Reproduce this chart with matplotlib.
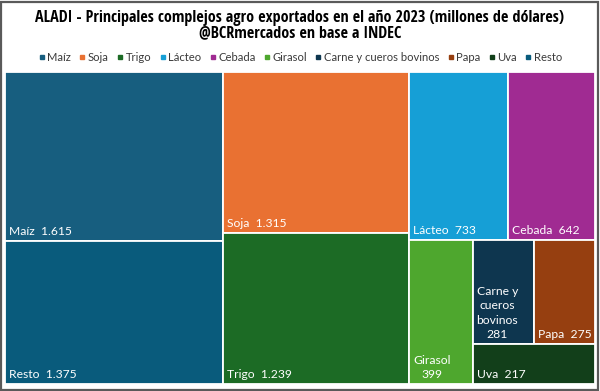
import textwrap
import matplotlib
matplotlib.use("Agg")
import matplotlib.pyplot as plt
from matplotlib.patches import Rectangle
from matplotlib.lines import Line2D

# datos (millones de USD)
categorias = ["Maíz", "Soja", "Trigo", "Lácteo", "Cebada", "Girasol",
              "Carne y cueros bovinos", "Papa", "Uva", "Resto"]
valores = [1615, 1315, 1239, 733, 642, 399, 281, 275, 217, 1375]
colores = ["#175e7f", "#e97132", "#1c6b25", "#169fd6", "#a02b92", "#4ea72e",
           "#0e364f", "#963f10", "#123f1a", "#095b7c"]

# estructura del treemap: 'h' = lado a lado, 'v' = apilado
arbol = ("h", [("v", [0, 9]),
               ("v", [1, 2]),
               ("v", [("h", [3, 4]),
                      ("h", [5, ("v", [("h", [6, 7]), 8])])])])

W, H = 600, 391


def total(nodo):
    if isinstance(nodo, int):
        return valores[nodo]
    return sum(total(n) for n in nodo[1])


def layout(nodo, x, y, w, h, out):
    if isinstance(nodo, int):
        out[nodo] = (x, y, w, h)
        return
    orient, hijos = nodo
    tot = total(nodo)
    pos = 0.0
    for hijo in hijos:
        f = total(hijo) / tot
        if orient == "h":
            layout(hijo, x + pos * w, y, w * f, h, out)
        else:
            layout(hijo, x, y + pos * h, w, h * f, out)
        pos += f


rects = {}
layout(arbol, 0, 0, 1, 1, rects)

plt.rcParams['font.family'] = ['Lato', 'DejaVu Sans']
fig = plt.figure(figsize=(W / 100, H / 100), dpi=100)

# marco exterior
fig.add_artist(Rectangle((1 / W, 1 / H), 1 - 3 / W, 1 - 3 / H, transform=fig.transFigure,
                         fill=False, edgecolor="#5a5a5a", linewidth=1.6))

x0, x1, y0, y1 = 5, 595, 72, 384
ax = fig.add_axes([x0 / W, 1 - y1 / H, (x1 - x0) / W, (y1 - y0) / H])
ax.set_xlim(0, 1)
ax.set_ylim(1, 0)
ax.axis("off")

ancho_px = x1 - x0
for i, (x, y, w, h) in rects.items():
    ax.add_patch(Rectangle((x, y), w, h, facecolor=colores[i], edgecolor="white", linewidth=1.3))
    val = f"{valores[i]:,}".replace(",", ".")
    txt = f"{categorias[i]}  {val}"
    if len(txt) * 5.6 > w * ancho_px:
        txt = textwrap.fill(categorias[i], 8) + "\n" + val
    ax.annotate(txt, xy=(x, y + h), xytext=(4, 4), textcoords="offset pixels",
                ha="left", va="bottom", multialignment="center",
                color="white", fontsize=8.7, linespacing=1.35)

titulo = dict(ha="center", va="center", fontsize=11.6, fontweight="bold",
              family=["Open Sans Condensed", "Roboto"])
fig.text(0.5, 1 - 17.5 / H, "ALADI - Principales complejos agro exportados en el año 2023 (millones de dólares)", **titulo)
fig.text(0.5, 1 - 33.5 / H, "@BCRmercados en base a INDEC", **titulo)

handles = [Line2D([], [], marker="s", linestyle="none", markersize=3.5,
                  markerfacecolor=c, markeredgecolor=c) for c in colores]
fig.legend(handles, categorias, loc="center", bbox_to_anchor=(0.5, 1 - 57.5 / H),
           ncol=len(categorias), frameon=False, fontsize=8.1, handletextpad=0.15,
           columnspacing=0.65, handlelength=0.7, labelcolor="#3a3a3a",
           borderaxespad=0, borderpad=0)

fig.savefig("out.png", dpi=100, facecolor="white")
